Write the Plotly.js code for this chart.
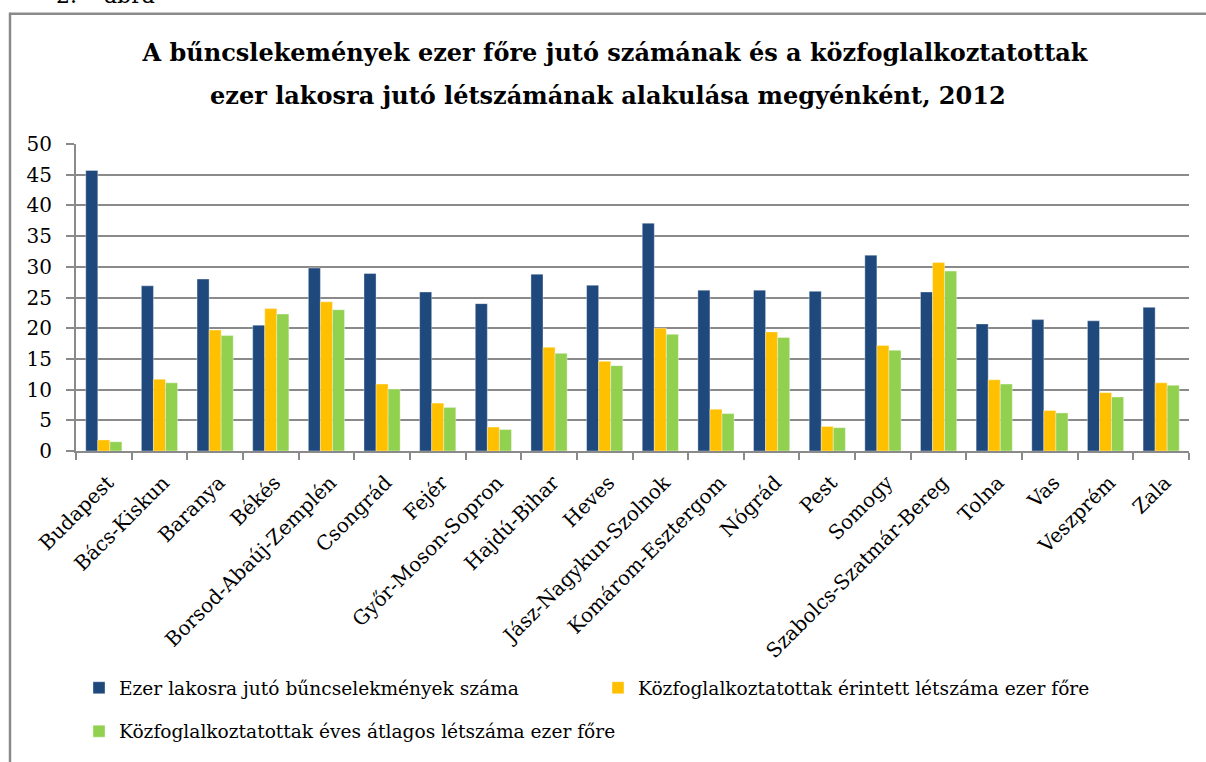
<!DOCTYPE html>
<html>
<head>
<meta charset="utf-8">
<script src="https://cdn.plot.ly/plotly-3.0.1.min.js"></script>
<style>html,body{margin:0;padding:0;background:#fff;}#chart{width:1206px;height:762px;}</style>
</head>
<body>
<div id="chart"></div>
<script>
const counties = ["Budapest","Bács-Kiskun","Baranya","Békés","Borsod-Abaúj-Zemplén","Csongrád","Fejér","Győr-Moson-Sopron","Hajdú-Bihar","Heves","Jász-Nagykun-Szolnok","Komárom-Esztergom","Nógrád","Pest","Somogy","Szabolcs-Szatmár-Bereg","Tolna","Vas","Veszprém","Zala"];
const crimesPerThousand = [45.7,26.9,28.0,20.5,29.8,28.9,25.9,24.0,28.8,27.0,37.1,26.2,26.2,26.0,31.9,25.9,20.7,21.4,21.2,23.4];
const publicWorkersAffected = [1.8,11.7,19.7,23.2,24.3,10.9,7.8,3.9,16.9,14.6,20.0,6.8,19.4,4.0,17.2,30.7,11.6,6.6,9.5,11.1];
const publicWorkersAverage = [1.5,11.1,18.8,22.3,23.0,10.1,7.1,3.5,15.9,13.9,19.0,6.1,18.5,3.8,16.4,29.3,10.9,6.2,8.8,10.7];
const seriesNames = ["Ezer lakosra jutó bűncselekmények száma","Közfoglalkoztatottak érintett létszáma ezer főre","Közfoglalkoztatottak éves átlagos létszáma ezer főre"];
const titleLine1 = "A bűncslekemények ezer főre jutó számának és a közfoglalkoztatottak";
const titleLine2 = "ezer lakosra jutó létszámának alakulása megyénként, 2012";
const yTicks = [0,5,10,15,20,25,30,35,40,45,50];

const FONT = "DejaVu Serif, Liberation Serif, serif";
const colors = ["#1F497D","#FFC000","#92D050"];
const lineCol = "rgba(255,255,255,0.45)";

const traces = [
  {type:"bar", x:counties, y:crimesPerThousand, name:seriesNames[0], marker:{color:colors[0], line:{color:lineCol,width:0.8}}, legend:"legend"},
  {type:"bar", x:counties, y:publicWorkersAffected, name:seriesNames[1], marker:{color:colors[1], line:{color:lineCol,width:0.8}}, legend:"legend"},
  {type:"bar", x:counties, y:publicWorkersAverage, name:seriesNames[2], marker:{color:colors[2], line:{color:lineCol,width:0.8}}, legend:"legend2"}
];

// plot area: x 76..1189, y 144..455
const L=76, R=1206-1189, T=144, B=762-455;
const PW = 1206-L-R, PH = 762-T-B;
const px = v => (v - L)/PW;
const py = v => (762 - B - v)/PH;

const layout = {
  width:1206, height:762,
  margin:{l:L, r:R, t:T, b:B},
  paper_bgcolor:"#fff", plot_bgcolor:"#fff",
  font:{family:FONT, color:"#000"},
  barmode:"group", bargap:0.35, bargroupgap:0,
  title:{text:titleLine1, font:{family:FONT, size:24, color:"#000", weight:"bold"}, x:615/1206, xanchor:"center", xref:"container", y:1-53/762, yanchor:"middle", yref:"container"},
  xaxis:{
    type:"category", tickangle:-45, tickson:"boundaries", ticks:"outside", ticklen:7, tickcolor:"#8a8a8a", tickwidth:2,
    showline:true, linecolor:"#8a8a8a", linewidth:2, showgrid:false,
    tickfont:{family:FONT, size:20, color:"#000"}, automargin:false, ticklabelstandoff:10, ticklabelshift:4
  },
  yaxis:{
    range:[0,50], tickvals:yTicks, ticks:"outside", ticklen:8, tickcolor:"#8a8a8a", tickwidth:2,
    showline:true, linecolor:"#8a8a8a", linewidth:2,
    showgrid:true, gridcolor:"#8a8a8a", gridwidth:2, zeroline:false,
    tickfont:{family:FONT, size:20, color:"#000"}, automargin:false, ticklabelstandoff:10
  },
  showlegend:true,
  legend:{orientation:"h", x:px(79), y:py(676), xanchor:"left", yanchor:"top", entrywidth:474, entrywidthmode:"pixels",
          font:{family:FONT, size:18.6, color:"#000"}, bgcolor:"rgba(0,0,0,0)", itemwidth:30, traceorder:"normal"},
  legend2:{orientation:"h", x:px(79), y:py(720), xanchor:"left", yanchor:"top",
          font:{family:FONT, size:18.6, color:"#000"}, bgcolor:"rgba(0,0,0,0)", itemwidth:30},
  annotations:[
    {text:titleLine2, xref:"paper", yref:"paper", x:px(608), y:py(95), xanchor:"center", yanchor:"middle", showarrow:false,
     font:{family:FONT, size:24, color:"#000", weight:"bold"}},
    {text:"2.", xref:"paper", yref:"paper", x:px(54), y:py(-6), xanchor:"left", yanchor:"middle", showarrow:false, font:{family:FONT, size:22, color:"#000"}},
    {text:"ábra", xref:"paper", yref:"paper", x:px(102), y:py(-6), xanchor:"left", yanchor:"middle", showarrow:false, font:{family:FONT, size:22, color:"#000"}}
  ],
  shapes:[
    {type:"line", xref:"paper", yref:"paper", x0:px(10), x1:px(10), y0:py(11), y1:py(770), line:{color:"#8a8a8a", width:2.5}},
    {type:"line", xref:"paper", yref:"paper", x0:px(9), x1:px(1215), y0:py(12), y1:py(12), line:{color:"#8a8a8a", width:2.5}}
  ]
};

Plotly.newPlot("chart", traces, layout, {displayModeBar:false, staticPlot:true});
</script>
</body>
</html>
